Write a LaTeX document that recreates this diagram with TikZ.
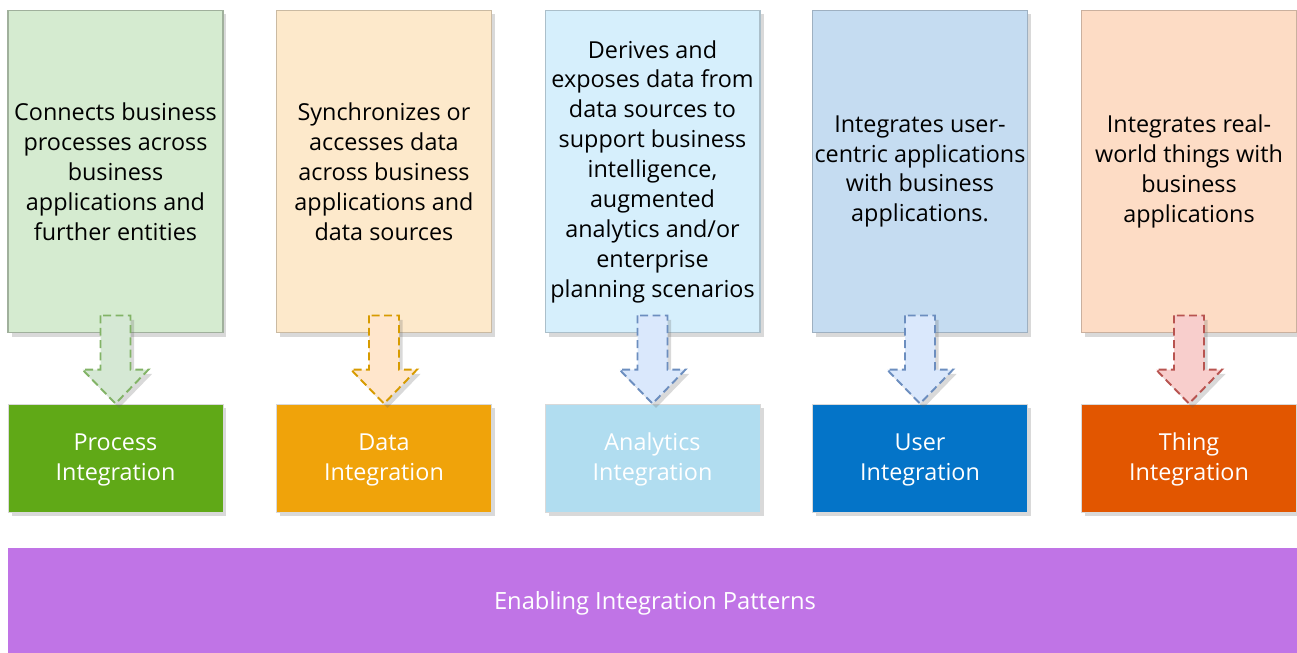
\documentclass[tikz,border=0pt]{standalone}
\usepackage{fontspec}
\setmainfont{Open Sans}
\usepackage{tikz}
\usetikzlibrary{calc,shadows}
\definecolor{processlight}{HTML}{D5EBD0}
\definecolor{processdark}{HTML}{60A917}
\definecolor{datalight}{HTML}{FDE9CB}
\definecolor{datadark}{HTML}{F0A30A}
\definecolor{analyticslight}{HTML}{D6EFFC}
\definecolor{analyticsdark}{HTML}{B1DDF0}
\definecolor{userlight}{HTML}{C5DCF1}
\definecolor{userdark}{HTML}{0474C8}
\definecolor{thinglight}{HTML}{FDDCC5}
\definecolor{thingdark}{HTML}{E25600}
\definecolor{patterncolor}{HTML}{C074E6}
\definecolor{greenarrow}{HTML}{D5E8D4}
\definecolor{greenedge}{HTML}{82B366}
\definecolor{orangearrow}{HTML}{FFE6CC}
\definecolor{orangeedge}{HTML}{D79B00}
\definecolor{bluearrow}{HTML}{DAE8FC}
\definecolor{blueedge}{HTML}{6C8EBF}
\definecolor{redarrow}{HTML}{F8CECC}
\definecolor{rededge}{HTML}{B85450}

\tikzset{
    boxshadow/.style={drop shadow={shadow xshift=2pt, shadow yshift=-2.5pt, opacity=0.25, fill=black!60}},
    descbox/.style={boxshadow, line width=0.6pt, minimum width=4.3cm, minimum height=6.46cm, align=center, inner sep=1pt, font=\fontsize{13.3}{17}\selectfont},
    typebox/.style={boxshadow, draw=black!15, line width=0.5pt, minimum width=4.3cm, minimum height=2.16cm, align=center, text=white, font=\fontsize{13.3}{17}\selectfont},
    flowstyle/.style={boxshadow, line width=1.1pt, dash pattern=on 4.5pt off 2.5pt}
}

% block arrow from a description box down to its integration box
\newcommand{\flowarrow}[3]{%
    \draw[flowstyle, #3] ($(#1.south)+(-15,-18)$) -- ($(#2.north)+(-15,-34)$) -- ($(#2.north)+(-33,-34)$)
        -- (#2.north) -- ($(#2.north)+(33,-34)$) -- ($(#2.north)+(15,-34)$) -- ($(#1.south)+(15,-18)$) -- cycle;}

\begin{document}
\begin{tikzpicture}[x=0.02cm, y=-0.02cm]
    \useasboundingbox (0,0) rectangle (1297,652);

    % Descriptions
    \node[descbox, draw=processlight!75!black, fill=processlight] (procdesc) at (115.5,171.5) {Connects business\\processes across\\business\\applications and\\further entities};
    \node[descbox, draw=datalight!80!black, fill=datalight] (datadesc) at (384,171.5) {Synchronizes or\\accesses data\\across business\\applications and\\data sources};
    \node[descbox, draw=analyticslight!80!black, fill=analyticslight] (anadesc) at (652.5,171.5) {Derives and\\exposes data from\\data sources to\\support business\\intelligence,\\augmented\\analytics and/or\\enterprise\\planning scenarios};
    \node[descbox, draw=userlight!80!black, fill=userlight] (userdesc) at (920,171.5) {Integrates user-\\centric applications\\with business\\applications.};
    \node[descbox, draw=thinglight!80!black, fill=thinglight] (thingdesc) at (1189,171.5) {Integrates real-\\world things with\\business\\applications};

    % Integration types
    \node[typebox, fill=processdark] (procint) at (115.5,458) {\strut Process\\Integration};
    \node[typebox, fill=datadark] (dataint) at (384,458) {\strut Data\\Integration};
    \node[typebox, fill=analyticsdark] (anaint) at (652.5,458) {\strut Analytics\\Integration};
    \node[typebox, fill=userdark] (userint) at (920,458) {\strut User\\Integration};
    \node[typebox, fill=thingdark] (thingint) at (1189,458) {\strut Thing\\Integration};

    % Arrows
    \flowarrow{procdesc}{procint}{draw=greenedge, fill=greenarrow}
    \flowarrow{datadesc}{dataint}{draw=orangeedge, fill=orangearrow}
    \flowarrow{anadesc}{anaint}{draw=blueedge, fill=bluearrow}
    \flowarrow{userdesc}{userint}{draw=blueedge, fill=bluearrow}
    \flowarrow{thingdesc}{thingint}{draw=rededge, fill=redarrow}

    % Enabling patterns bar
    \node[fill=patterncolor, minimum width=25.9cm, minimum height=2.2cm, text=white, font=\fontsize{13.5}{16}\selectfont] (patterns) at (655,603) {Enabling Integration Patterns};
\end{tikzpicture}
\end{document}
